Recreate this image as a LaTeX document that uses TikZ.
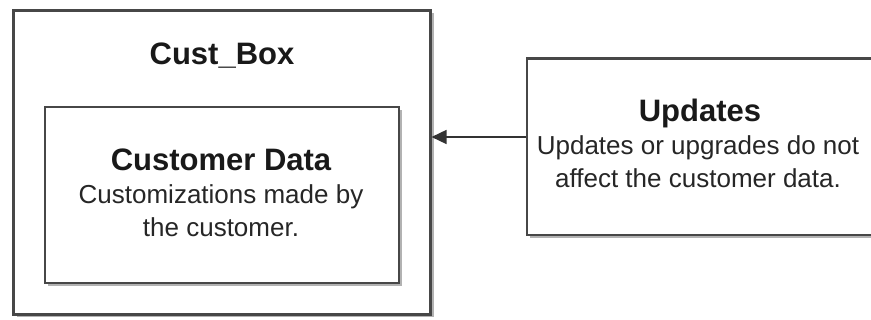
\documentclass[tikz,border=0pt]{standalone}
\usepackage{fontspec}
\setmainfont{Liberation Sans}
\usetikzlibrary{arrows.meta,shadows}
\begin{document}
\begin{tikzpicture}[x=1pt,y=-1pt,
  box/.style={draw=black!72,line width=2.1pt,fill=white,inner sep=0pt,
    drop shadow={shadow xshift=3pt,shadow yshift=-3pt,fill=black!30,opacity=1}},
  ttl/.style={anchor=base,inner sep=0pt,font=\fontsize{31}{33}\selectfont\bfseries,text=black!90},
  txt/.style={anchor=base,inner sep=0pt,font=\fontsize{26}{33}\selectfont,text=black!85},
  conn/.style={draw=black!80,line width=1.6pt,-{Triangle[length=15pt,width=14pt]}}]
\useasboundingbox (0,0) rectangle (871,320);
\clip (0,0) rectangle (871,320);
\node[box,minimum width=417pt,minimum height=304pt] (outer) at (222,162.5) {};
\node[box,minimum width=354pt,minimum height=176pt] (inner) at (222,195) {};
\node[box,minimum width=358pt,minimum height=176.5pt] (upd) at (706,146.75) {};
\node[ttl] (t1) at (222,65) {Cust\_Box};
\node[ttl] (t2) at (221,171) {Customer Data};
\node[txt] (b1) at (221,204) {Customizations made by};
\node[txt] (b2) at (221,237) {the customer.};
\node[ttl] (t3) at (700,122) {Updates};
\node[txt] (b3) at (698,155) {Updates or upgrades do not};
\node[txt] (b4) at (698,188) {affect the customer data.};
\coordinate (ay) at (0,137);
\draw[conn] (upd.west |- ay) -- (outer.east |- ay);
\end{tikzpicture}
\end{document}
